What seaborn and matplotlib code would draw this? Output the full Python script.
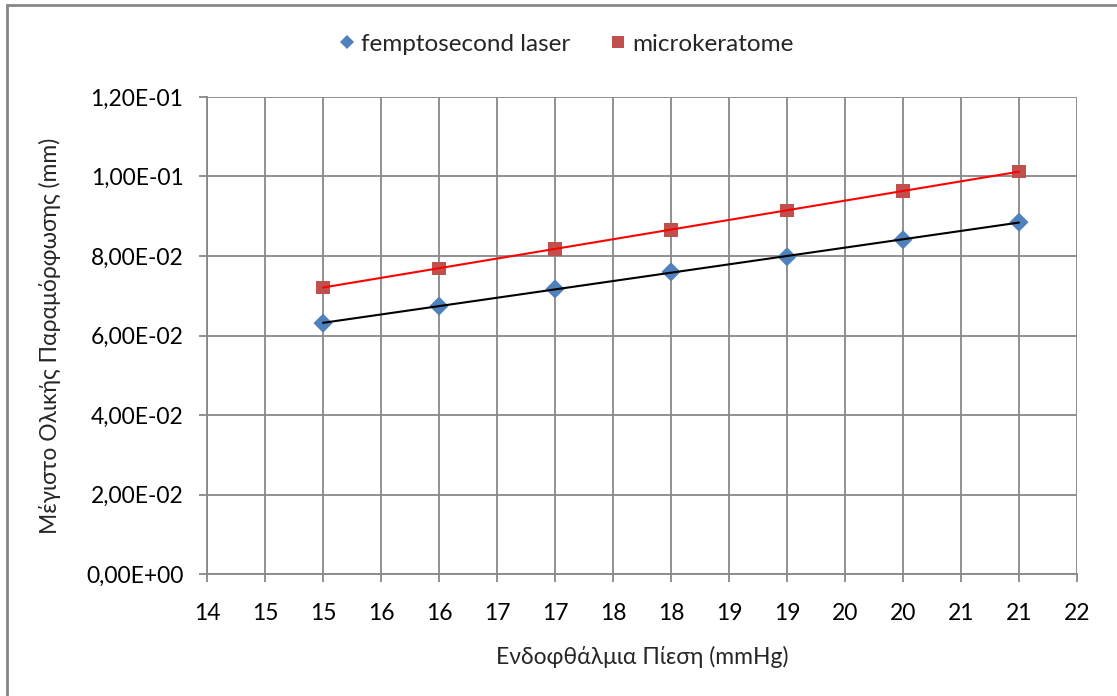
import matplotlib
matplotlib.use("Agg")
import matplotlib.pyplot as plt
from matplotlib.patches import Rectangle
from matplotlib.lines import Line2D
import pandas as pd
import seaborn as sns

# Intraocular pressure (mmHg)
pressure = [15, 16, 17, 18, 19, 20, 21]
# Maximum total deformation (mm)
femto_values = [0.0631, 0.0674, 0.0717, 0.0760, 0.0798, 0.0841, 0.0885]
micro_values = [0.0721, 0.0769, 0.0818, 0.0866, 0.0915, 0.0964, 0.1012]
series_names = ["femptosecond laser", "microkeratome"]

x_ticks = [14, 14.5, 15, 15.5, 16, 16.5, 17, 17.5, 18, 18.5, 19, 19.5, 20, 20.5, 21, 21.5]
x_tick_labels = ["14", "15", "15", "16", "16", "17", "17", "18", "18",
                 "19", "19", "20", "20", "21", "21", "22"]
y_ticks = [0.0, 0.02, 0.04, 0.06, 0.08, 0.10, 0.12]
y_tick_labels = ["0,00E+00", "2,00E-02", "4,00E-02", "6,00E-02",
                 "8,00E-02", "1,00E-01", "1,20E-01"]

x_title = "Ενδοφθάλμια Πίεση (mmHg)"
y_title = "Μέγιστο Ολικής Παραμόρφωσης (mm)"

sns.set_style("white")
plt.rcParams["font.family"] = ["Lato", "Open Sans", "DejaVu Sans"]
FS = 16.5

df = pd.DataFrame({
    "x": pressure * 2,
    "y": femto_values + micro_values,
    "series": [series_names[0]] * len(pressure) + [series_names[1]] * len(pressure),
})

fig = plt.figure(figsize=(11.17, 6.96), dpi=100)
ax = fig.add_axes([207 / 1117, 1 - 574 / 696, (1077 - 207) / 1117, (574 - 97) / 696])

grid_c = "#888888"
blue = "#4F81BD"
red = "#C0504D"

sns.scatterplot(data=df, x="x", y="y", hue="series", style="series",
                palette=[blue, red], markers=["D", "s"],
                s=95, linewidth=0, ax=ax, legend=False, zorder=3)

# Linear trendlines
sns.regplot(x=pressure, y=femto_values, scatter=False, ci=None, ax=ax,
            line_kws=dict(color="black", lw=1.5, zorder=4))
sns.regplot(x=pressure, y=micro_values, scatter=False, ci=None, ax=ax,
            line_kws=dict(color="#FF0000", lw=1.5, zorder=4))

ax.set_xlim(14, 21.5)
ax.set_ylim(0, 0.12)
ax.set_xticks(x_ticks)
ax.set_xticklabels(x_tick_labels)
ax.set_yticks(y_ticks)
ax.set_yticklabels(y_tick_labels)
ax.grid(True, color=grid_c, lw=1.3)
ax.set_axisbelow(True)
for side in ["top", "right"]:
    ax.spines[side].set_visible(False)
for side in ["left", "bottom"]:
    ax.spines[side].set_color(grid_c)
    ax.spines[side].set_linewidth(1.3)
ax.tick_params(axis="both", which="both", direction="out", length=6, width=1.3,
               color=grid_c, labelsize=FS, labelcolor="black",
               left=True, bottom=True)
ax.tick_params(axis="y", pad=11)
ax.tick_params(axis="x", pad=15)
ax.set_xlabel(x_title, fontsize=FS, labelpad=16)
ax.set_ylabel(y_title, fontsize=FS, labelpad=18)

handles = [
    Line2D([], [], ls="none", marker="D", color=blue, markersize=7, markeredgewidth=0),
    Line2D([], [], ls="none", marker="s", color=red, markersize=8.5, markeredgewidth=0),
]
fig.legend(handles, series_names, loc="center", bbox_to_anchor=(0.505, 1 - 44 / 696),
           ncol=2, frameon=False, fontsize=17.5, handletextpad=0.05, columnspacing=1.5,
           handlelength=1.0)

fig.patches.append(Rectangle((7 / 1117, -0.1), 1.2, 1 - 5 / 696 + 0.1,
                             transform=fig.transFigure, fill=False,
                             edgecolor="#868686", lw=2, figure=fig))

fig.savefig("out.png", dpi=100)
